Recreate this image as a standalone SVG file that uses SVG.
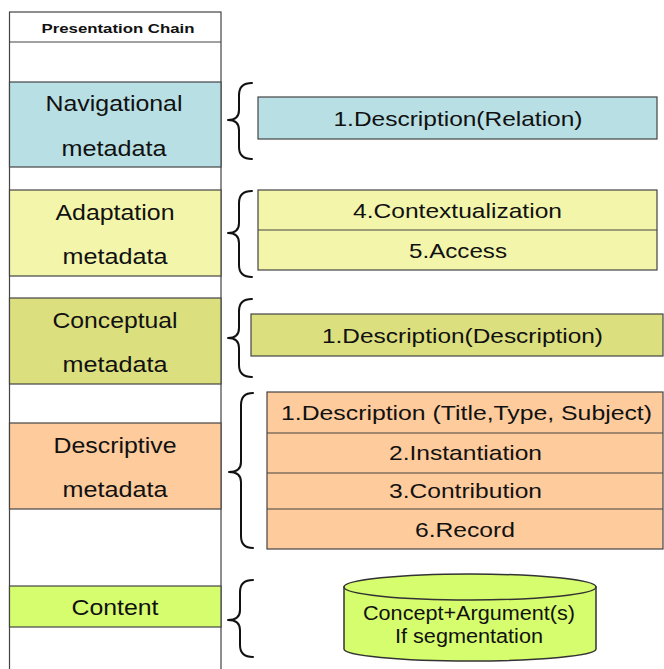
<svg xmlns="http://www.w3.org/2000/svg" width="664" height="669" viewBox="0 0 664 669">
  <style>
    .lbl { font-family: "Liberation Sans", Arial, sans-serif; fill: #111; text-anchor: middle; }
    .big { font-size: 22px; }
    .mid { font-size: 21px; }
    .sml { font-size: 20px; }
    .hdr { font-size: 13px; font-weight: bold; }
    .cell { stroke: #444; stroke-width: 1.2; }
    .brace { fill: none; stroke: #111; stroke-width: 2; stroke-linecap: round; stroke-linejoin: round; }
    .nav { fill: #b8dfe3; }
    .adapt { fill: #f3f6aa; }
    .concept { fill: #dcdf7e; }
    .desc { fill: #fecb9c; }
    .content { fill: #d6fd6e; }
  </style>

  <rect width="664" height="669" fill="#ffffff"/>

  <!-- presentation chain column -->
  <g id="chain-column">
    <rect x="9.5" y="12" width="211.5" height="670" fill="#ffffff" stroke="#444" stroke-width="1.2"/>
    <line x1="9.5" y1="42" x2="221" y2="42" stroke="#444" stroke-width="1.2"/>
    <text class="lbl hdr" x="118" y="33" textLength="153" lengthAdjust="spacingAndGlyphs">Presentation Chain</text>
  </g>

  <g id="navigational-metadata">
    <rect class="cell nav" x="9.5" y="82" width="211.5" height="85"/>
    <text class="lbl big" x="114" y="111" textLength="137" lengthAdjust="spacingAndGlyphs">Navigational</text>
    <text class="lbl big" x="114" y="156" textLength="105" lengthAdjust="spacingAndGlyphs">metadata</text>
  </g>

  <g id="adaptation-metadata">
    <rect class="cell adapt" x="9.5" y="190" width="211.5" height="86"/>
    <text class="lbl big" x="115" y="219.5" textLength="119" lengthAdjust="spacingAndGlyphs">Adaptation</text>
    <text class="lbl big" x="115" y="264" textLength="105" lengthAdjust="spacingAndGlyphs">metadata</text>
  </g>

  <g id="conceptual-metadata">
    <rect class="cell concept" x="9.5" y="298" width="211.5" height="86"/>
    <text class="lbl big" x="115" y="328" textLength="125" lengthAdjust="spacingAndGlyphs">Conceptual</text>
    <text class="lbl big" x="115" y="372" textLength="105" lengthAdjust="spacingAndGlyphs">metadata</text>
  </g>

  <g id="descriptive-metadata">
    <rect class="cell desc" x="9.5" y="423" width="211.5" height="86"/>
    <text class="lbl big" x="115" y="452.5" textLength="123" lengthAdjust="spacingAndGlyphs">Descriptive</text>
    <text class="lbl big" x="115" y="497" textLength="105" lengthAdjust="spacingAndGlyphs">metadata</text>
  </g>

  <g id="content">
    <rect class="cell content" x="9.5" y="586" width="211.5" height="41"/>
    <text class="lbl big" x="115" y="614.5" textLength="87" lengthAdjust="spacingAndGlyphs">Content</text>
  </g>

  <!-- element boxes on the right -->
  <g id="relation-box">
    <rect class="cell nav" x="258" y="97" width="399" height="42"/>
    <text class="lbl mid" x="458" y="126" textLength="249" lengthAdjust="spacingAndGlyphs">1.Description(Relation)</text>
  </g>

  <g id="adaptation-box">
    <rect class="cell adapt" x="258" y="190" width="399" height="80"/>
    <line class="cell" x1="258" y1="230" x2="657" y2="230"/>
    <text class="lbl mid" x="457.5" y="218" textLength="209" lengthAdjust="spacingAndGlyphs">4.Contextualization</text>
    <text class="lbl mid" x="458" y="258" textLength="98" lengthAdjust="spacingAndGlyphs">5.Access</text>
  </g>

  <g id="description-box">
    <rect class="cell concept" x="251" y="314" width="412" height="42"/>
    <text class="lbl mid" x="462.5" y="343" textLength="281" lengthAdjust="spacingAndGlyphs">1.Description(Description)</text>
  </g>

  <g id="descriptive-box">
    <rect class="cell desc" x="267" y="392" width="396" height="157"/>
    <line class="cell" x1="267" y1="433" x2="663" y2="433"/>
    <line class="cell" x1="267" y1="473" x2="663" y2="473"/>
    <line class="cell" x1="267" y1="509" x2="663" y2="509"/>
    <text class="lbl mid" x="466.5" y="420" textLength="371" lengthAdjust="spacingAndGlyphs">1.Description (Title,Type, Subject)</text>
    <text class="lbl mid" x="465.5" y="460" textLength="153" lengthAdjust="spacingAndGlyphs">2.Instantiation</text>
    <text class="lbl mid" x="465.5" y="498" textLength="153" lengthAdjust="spacingAndGlyphs">3.Contribution</text>
    <text class="lbl mid" x="465" y="537" textLength="100" lengthAdjust="spacingAndGlyphs">6.Record</text>
  </g>

  <g id="content-store">
    <path class="content" d="M344,587 L344,649 A126,12 0 0 0 596,649 L596,587 Z" stroke="#333" stroke-width="1.5"/>
    <ellipse class="content" cx="470" cy="587" rx="126" ry="13" stroke="#333" stroke-width="1.5"/>
    <text class="lbl sml" x="469" y="619.5" textLength="212" lengthAdjust="spacingAndGlyphs">Concept+Argument(s)</text>
    <text class="lbl sml" x="469" y="643" textLength="148" lengthAdjust="spacingAndGlyphs">If segmentation</text>
  </g>

  <!-- braces linking each layer to its elements -->
  <g id="connectors">
    <path class="brace" d="M252,83 Q239,83 239,95 L239,110 Q239,120 228,120 Q239,120 239,130 L239,147 Q239,159 252,159"/>
    <path class="brace" d="M252,191 Q239,191 239,203 L239,223 Q239,233 228,233 Q239,233 239,243 L239,265 Q239,277 252,277"/>
    <path class="brace" d="M252,299 Q239,299 239,311 L239,328 Q239,338 228,338 Q239,338 239,348 L239,365 Q239,377 252,377"/>
    <path class="brace" d="M253,393 Q241,393 241,405 L241,462 Q241,472 229,472 Q241,472 241,482 L241,536 Q241,548 253,548"/>
    <path class="brace" d="M253,580 Q240,580 240,592 L240,610 Q240,620 228,620 Q240,620 240,630 L240,645 Q240,657 253,657"/>
  </g>
</svg>
